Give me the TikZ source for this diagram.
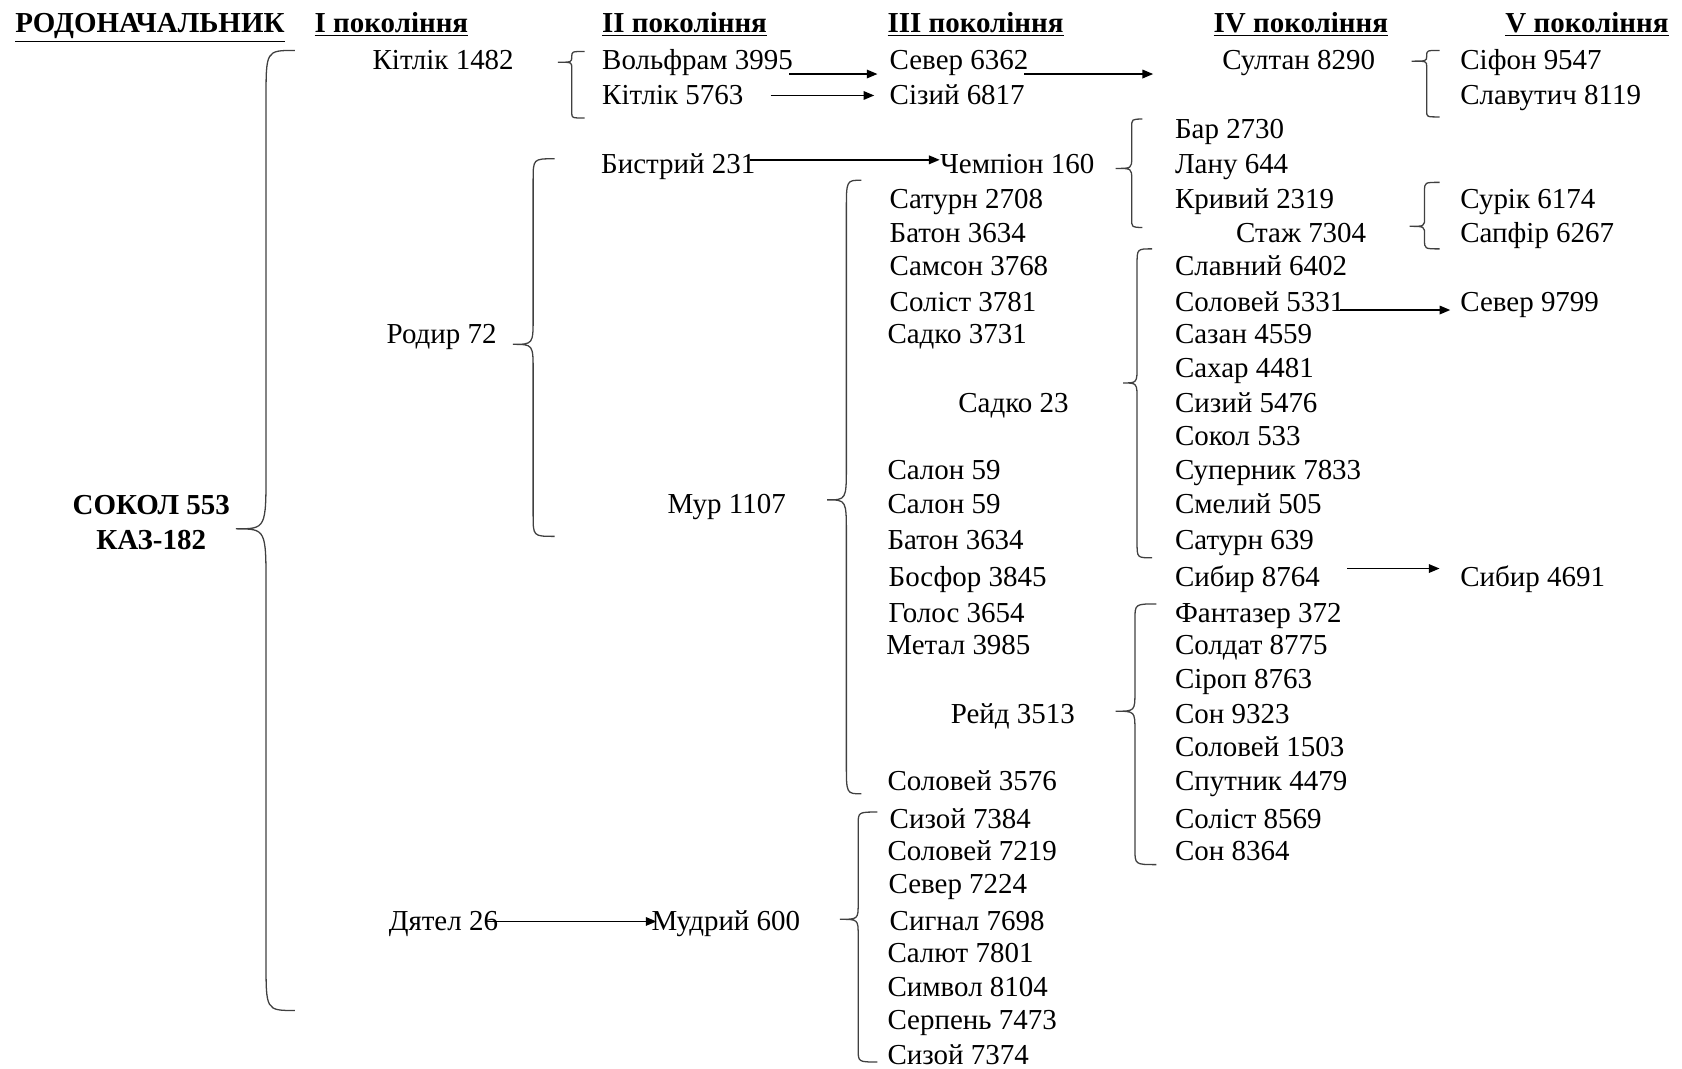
\documentclass[tikz,border=0pt]{standalone}
\usepackage{fontspec}
\setmainfont{Liberation Serif}
\usetikzlibrary{arrows.meta,calc}
\newcommand\mybrace[8]{% xe xl xt yt ym yb re rt
  \draw[brc] (#1,#4) .. controls (#2,#4) .. (#2,{#4+#7}) -- (#2,{#5-#8})
    .. controls (#2,#5) .. (#3,#5) .. controls (#2,#5) .. (#2,{#5+#8})
    -- (#2,{#6-#7}) .. controls (#2,#6) .. (#1,#6);}
\begin{document}
\begin{tikzpicture}[x=0.5pt,y=-0.5pt,
  txt/.style={anchor=west, inner sep=0pt, text height=0.8em, text depth=0pt,
    font=\fontsize{13.5}{16}\selectfont},
  hd/.style={txt, font=\bfseries\fontsize{13.5}{16}\selectfont},
  rootbox/.style={anchor=center, inner sep=0pt, align=center,
    font=\bfseries\fontsize{13.5}{16}\selectfont},
  arr/.style={-{Triangle[length=5pt,width=4pt]}, line width=0.7pt},
  brc/.style={line width=0.6pt, black!75}]
\useasboundingbox (0,0) rectangle (1568,996);
% headers
\node[hd] (h0) at (14,22) {\underline{РОДОНАЧАЛЬНИК}};
\node[hd] (h1) at (293,22) {\underline{І покоління}};
\node[hd] (h2) at (561,22) {\underline{ІІ покоління}};
\node[hd] (h3) at (827,22) {\underline{ІІІ покоління}};
\node[hd] (h4) at (1131,22) {\underline{IV покоління}};
\node[hd] (h5) at (1403,22) {\underline{V покоління}};
% root
\node[rootbox] (root) at (141,487) {СОКОЛ 553\\КАЗ-182};
% generation I
\node[txt] (kit1482) at (347,57) {Кітлік 1482};
\node[txt] (rodyr) at (360,312) {Родир 72};
\node[txt] (dyatel) at (362,859) {Дятел 26};
% generation II
\node[txt] (wolf) at (561,57) {Вольфрам 3995};
\node[txt] (kit5763) at (561,89) {Кітлік 5763};
\node[txt] (bystr) at (560,154) {Бистрий 231};
\node[txt] (mur) at (622,471) {Мур 1107};
\node[txt] (mudr) at (607,859) {Мудрий 600};
% generation III
\node[txt] (sev6362) at (829,57) {Север 6362};
\node[txt] (siz6817) at (829,89) {Сізий 6817};
\node[txt] (champ) at (876,154) {Чемпіон 160};
\node[txt] (sat2708) at (829,186) {Сатурн 2708};
\node[txt] (bat3634a) at (829,218) {Батон 3634};
\node[txt] (sam3768) at (829,249) {Самсон 3768};
\node[txt] (sol3781) at (829,282) {Соліст 3781};
\node[txt] (sad3731) at (827,312) {Садко 3731};
\node[txt] (sad23) at (893,377) {Садко 23};
\node[txt] (sal59a) at (827,439) {Салон 59};
\node[txt] (sal59b) at (827,471) {Салон 59};
\node[txt] (bat3634b) at (827,504) {Батон 3634};
\node[txt] (bos3845) at (828,539) {Босфор 3845};
\node[txt] (gol3654) at (828,572) {Голос 3654};
\node[txt] (met3985) at (826,602) {Метал 3985};
\node[txt] (reid) at (886,666) {Рейд 3513};
\node[txt] (sol3576) at (827,729) {Соловей 3576};
\node[txt] (siz7384) at (829,764) {Сизой 7384};
\node[txt] (sol7219) at (827,794) {Соловей 7219};
\node[txt] (sev7224) at (828,825) {Север 7224};
\node[txt] (sig7698) at (829,859) {Сигнал 7698};
\node[txt] (sal7801) at (827,889) {Салют 7801};
\node[txt] (sym8104) at (827,921) {Символ 8104};
\node[txt] (ser7473) at (827,952) {Серпень 7473};
\node[txt] (siz7374) at (827,984) {Сизой 7374};
% generation IV
\node[txt] (sult) at (1139,57) {Султан 8290};
\node[txt] (bar) at (1095,121) {Бар 2730};
\node[txt] (lanu) at (1095,154) {Лану 644};
\node[txt] (kryv) at (1095,186) {Кривий 2319};
\node[txt] (stazh) at (1152,218) {Стаж 7304};
\node[txt] (slav) at (1095,249) {Славний 6402};
\node[txt] (sol5331) at (1095,282) {Соловей 5331};
\node[txt] (saz) at (1095,312) {Сазан 4559};
\node[txt] (sakh) at (1095,344) {Сахар 4481};
\node[txt] (sizyi) at (1095,377) {Сизий 5476};
\node[txt] (sokol) at (1095,407) {Сокол 533};
\node[txt] (super) at (1095,439) {Суперник 7833};
\node[txt] (smel) at (1095,471) {Смелий 505};
\node[txt] (sat639) at (1095,504) {Сатурн 639};
\node[txt] (syb8764) at (1095,539) {Сибир 8764};
\node[txt] (fant) at (1095,572) {Фантазер 372};
\node[txt] (sold) at (1095,602) {Солдат 8775};
\node[txt] (sirop) at (1095,634) {Сіроп 8763};
\node[txt] (son9323) at (1095,666) {Сон 9323};
\node[txt] (sol1503) at (1095,697) {Соловей 1503};
\node[txt] (sput) at (1095,729) {Спутник 4479};
\node[txt] (sol8569) at (1095,764) {Соліст 8569};
\node[txt] (son8364) at (1095,794) {Сон 8364};
% generation V
\node[txt] (sif) at (1361,57) {Сіфон 9547};
\node[txt] (slavut) at (1361,89) {Славутич 8119};
\node[txt] (sur) at (1361,186) {Сурік 6174};
\node[txt] (sapf) at (1361,218) {Сапфір 6267};
\node[txt] (sev9799) at (1361,282) {Север 9799};
\node[txt] (syb4691) at (1361,539) {Сибир 4691};
% braces
\mybrace{275}{248}{220}{47}{493}{942}{45}{55}
\mybrace{545}{533}{520}{48}{58}{110}{5}{5}
\mybrace{517}{497}{478}{148}{321}{500}{20}{25}
\mybrace{803}{789}{771}{168}{466}{740}{28}{32}
\mybrace{818}{800}{783}{757}{857}{990}{12}{15}
\mybrace{1065}{1055}{1040}{111}{157}{212}{8}{10}
\mybrace{1342}{1330}{1316}{47}{57}{109}{5}{5}
\mybrace{1342}{1328}{1314}{170}{211}{232}{8}{8}
\mybrace{1074}{1060}{1047}{232}{357}{520}{14}{16}
\mybrace{1078}{1058}{1040}{563}{663}{806}{15}{18}
% arrows
\draw[arr] ($(wolf.east)+(-4,12)$) -- ($(sev6362.west)+(-11,12)$);
\draw[arr] ($(kit5763.east)+(25,0)$) -- ($(siz6817.west)+(-14,0)$);
\draw[arr] ($(sev6362.east)+(-4,12)$) -- ($(sult.west)+(-64,12)$);
\draw[arr] ($(bystr.east)+(-5,-5)$) -- ($(champ.west)+(0,-5)$);
\draw[arr] ($(sol5331.east)+(-5,7)$) -- ($(sev9799.west)+(-9,7)$);
\draw[arr] ($(syb8764.east)+(25,-9)$) -- ($(syb4691.west)+(-19,-9)$);
\draw[arr] ($(dyatel.east)+(-11,0)$) -- ($(mudr.west)+(5,0)$);
\end{tikzpicture}
\end{document}
